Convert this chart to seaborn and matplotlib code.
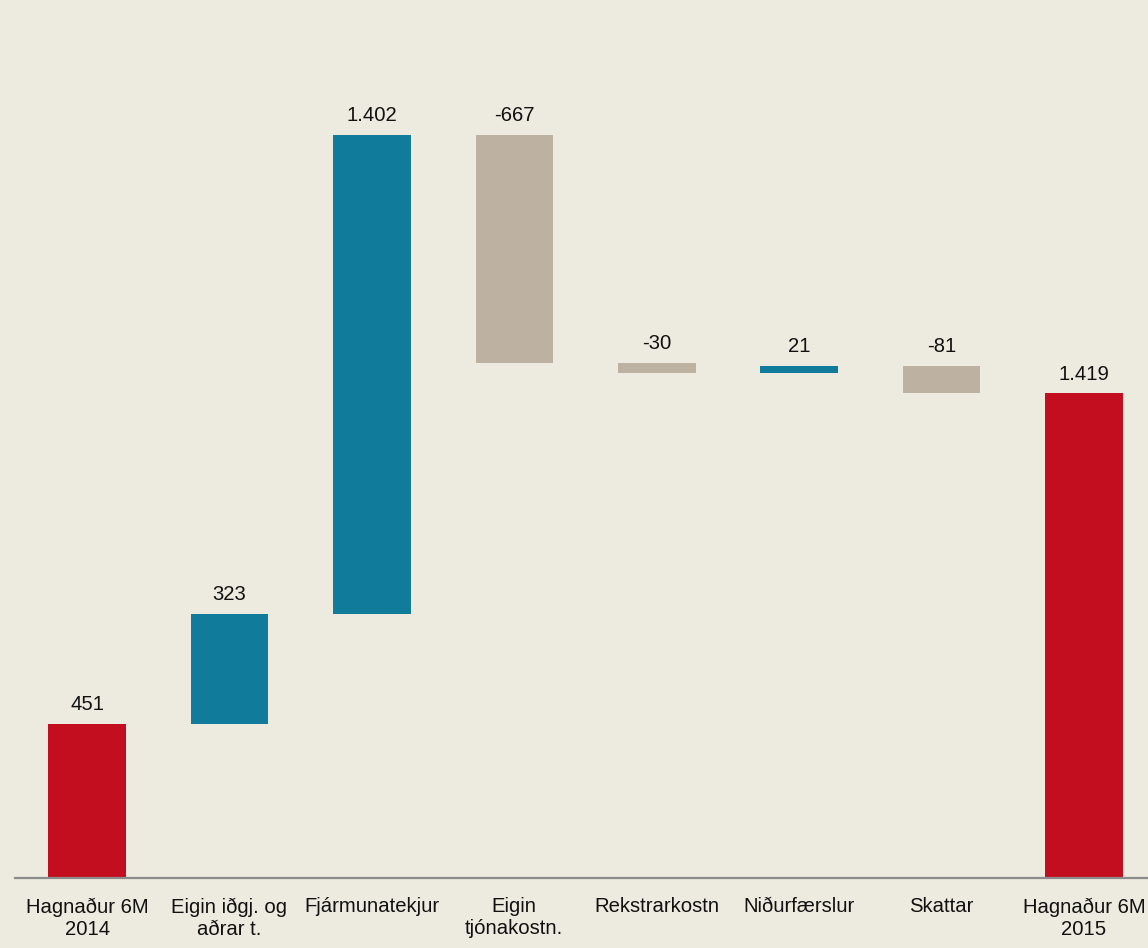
import pandas as pd
import matplotlib
matplotlib.use('Agg')
import matplotlib.pyplot as plt
import seaborn as sns

# --- Data (ISK m) ---
categories = ['Hagnaður 6M\n2014', 'Eigin iðgj. og\naðrar t.', 'Fjármunatekjur',
              'Eigin\ntjónakostn.', 'Rekstrarkostn', 'Niðurfærslur', 'Skattar',
              'Hagnaður 6M\n2015']
changes = [451, 323, 1402, -667, -30, 21, -81, 1419]
kinds = ['total', 'up', 'up', 'down', 'down', 'up', 'down', 'total']

BG = '#EDEBE0'
COLORS = {'total': '#C20E1E', 'up': '#117B9C', 'down': '#BDB1A1'}

# running base for the waterfall
bottoms, tops = [], []
level = 0
for v, k in zip(changes, kinds):
    if k == 'total':
        bottoms.append(0)
        level = v
        tops.append(v)
    else:
        start = level
        level = level + v
        bottoms.append(min(start, level))
        tops.append(max(start, level))

df = pd.DataFrame({'category': categories, 'height': [abs(v) for v in changes]})

sns.set_theme(style='white')
plt.rcParams['font.family'] = ['Liberation Sans', 'DejaVu Sans']

fig = plt.figure(figsize=(11.48, 9.48), dpi=100, facecolor=BG)
ax = fig.add_axes([15 / 1148, 70 / 948, 1133 / 1148, 878 / 948])
ax.set_facecolor(BG)

sns.barplot(data=df, x='category', y='height', width=0.545, color=COLORS['up'],
            linewidth=0, ax=ax)

# shift bars onto their waterfall base and recolour
for patch, b, k in zip(ax.patches, bottoms, kinds):
    patch.set_y(b)
    patch.set_facecolor(COLORS[k])

for i, (v, t) in enumerate(zip(changes, tops)):
    ax.annotate(f'{v:,}'.replace(',', '.'), (i, t), xytext=(0, 7),
                textcoords='offset points', ha='center', va='bottom',
                fontsize=14.6, color='#111111')

ax.set_xlim(-0.506, 7.449)
ax.set_ylim(0, 2571)
ax.set_xlabel('')
ax.set_ylabel('')
ax.set_yticks([])
ax.tick_params(axis='x', length=0, pad=14, labelsize=14.6, colors='#111111')
for lbl in ax.get_xticklabels():
    lbl.set_linespacing(1.2)
for s in ['top', 'left', 'right']:
    ax.spines[s].set_visible(False)
ax.spines['bottom'].set_color('#8C8C8C')
ax.spines['bottom'].set_linewidth(1.6)

fig.savefig('out.png', dpi=100, facecolor=BG)
